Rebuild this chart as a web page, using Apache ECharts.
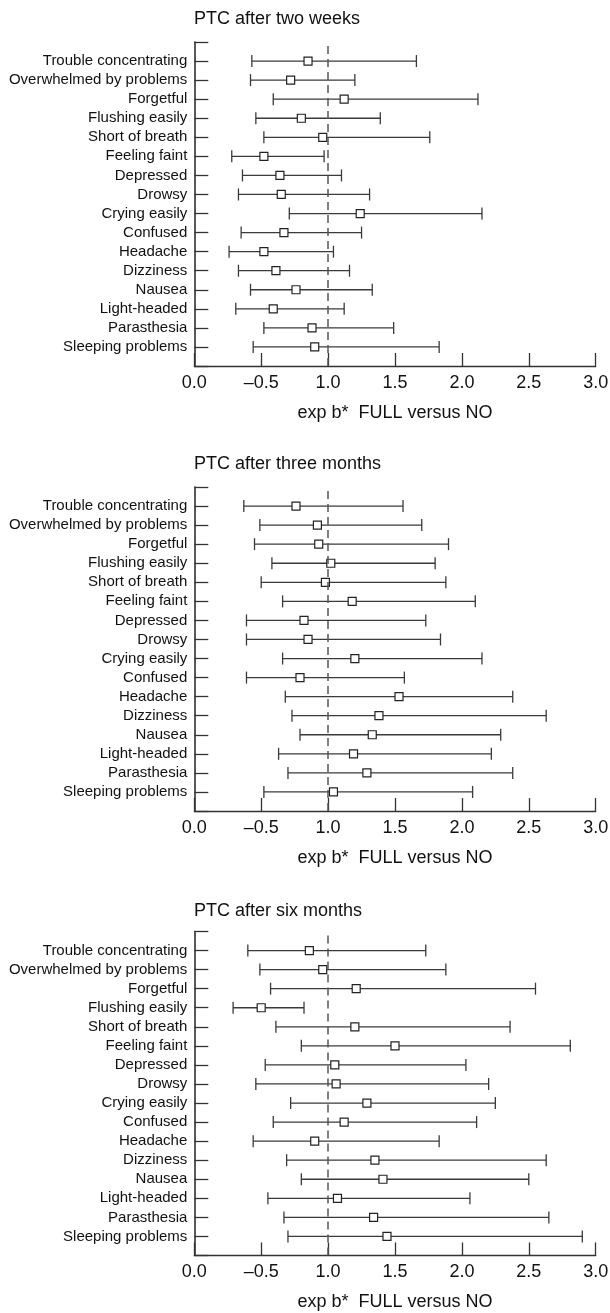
<!DOCTYPE html>
<html>
<head>
<meta charset="utf-8">
<script src="https://cdn.jsdelivr.net/npm/echarts@6/dist/echarts.min.js"></script>
<style>
html,body{margin:0;padding:0;background:#fff;}
#chart{width:610px;height:1313px;}
</style>
</head>
<body>
<div id="chart"></div>
<script>
// ---- data ----
const categories = ["Trouble concentrating","Overwhelmed by problems","Forgetful","Flushing easily","Short of breath","Feeling faint","Depressed","Drowsy","Crying easily","Confused","Headache","Dizziness","Nausea","Light-headed","Parasthesia","Sleeping problems"];
const panelTitles = ["PTC after two weeks","PTC after three months","PTC after six months"];
const xTickLabels = ["0.0","–0.5","1.0","1.5","2.0","2.5","3.0"];
const xAxisTitle = "exp b*  FULL versus NO";
const referenceValue = 1.0;

const est2w = [0.85,0.72,1.12,0.80,0.96,0.52,0.64,0.65,1.24,0.67,0.52,0.61,0.76,0.59,0.88,0.90];
const lo2w  = [0.43,0.42,0.59,0.46,0.52,0.28,0.36,0.33,0.71,0.35,0.26,0.33,0.42,0.31,0.52,0.44];
const hi2w  = [1.66,1.20,2.12,1.39,1.76,0.97,1.10,1.31,2.15,1.25,1.04,1.16,1.33,1.12,1.49,1.83];

const est3m = [0.76,0.92,0.93,1.02,0.98,1.18,0.82,0.85,1.20,0.79,1.53,1.38,1.33,1.19,1.29,1.04];
const lo3m  = [0.37,0.49,0.45,0.58,0.50,0.66,0.39,0.39,0.66,0.39,0.68,0.73,0.79,0.63,0.70,0.52];
const hi3m  = [1.56,1.70,1.90,1.80,1.88,2.10,1.73,1.84,2.15,1.57,2.38,2.63,2.29,2.22,2.38,2.08];

const est6m = [0.86,0.96,1.21,0.50,1.20,1.50,1.05,1.06,1.29,1.12,0.90,1.35,1.41,1.07,1.34,1.44];
const lo6m  = [0.40,0.49,0.57,0.29,0.61,0.80,0.53,0.46,0.72,0.59,0.44,0.69,0.80,0.55,0.67,0.70];
const hi6m  = [1.73,1.88,2.55,0.82,2.36,2.81,2.03,2.20,2.25,2.11,1.83,2.63,2.50,2.06,2.65,2.90];

// ---- build ----
const panels = [[est2w,lo2w,hi2w],[est3m,lo3m,hi3m],[est6m,lo6m,hi6m]];
const gridTops = [42, 487, 931.5];
const titleTops = [10, 455, 902];
const textFont = "'Liberation Sans',Arial,sans-serif";
const N = categories.length;

function renderItem(params, api) {
  const y = api.value(3);
  const pLo = api.coord([api.value(1), y]);
  const pHi = api.coord([api.value(2), y]);
  const pE = api.coord([api.value(0), y]);
  const cap = 6, s = 4;
  const st = {stroke:'#3a3a3a', lineWidth:1.3};
  return {type:'group', children:[
    {type:'line', shape:{x1:pLo[0],y1:pLo[1],x2:pHi[0],y2:pHi[1]}, style:st},
    {type:'line', shape:{x1:pLo[0],y1:pLo[1]-cap,x2:pLo[0],y2:pLo[1]+cap}, style:st},
    {type:'line', shape:{x1:pHi[0],y1:pHi[1]-cap,x2:pHi[0],y2:pHi[1]+cap}, style:st},
    {type:'rect', shape:{x:pE[0]-s,y:pE[1]-s,width:2*s,height:2*s}, style:{fill:'#fff',stroke:'#222',lineWidth:1.2}}
  ]};
}

const grid = [], xAxis = [], yAxis = [], series = [], title = [];
panels.forEach((p, k) => {
  grid.push({left:194.3, width:401.4, top:gridTops[k], height:324, containLabel:false, outerBoundsMode:'none'});
  title.push({text:panelTitles[k], left:194, top:titleTops[k], padding:0,
    textStyle:{fontSize:18, fontWeight:'normal', color:'#111', fontFamily:textFont}});
  xAxis.push({type:'value', gridIndex:k, min:0, max:3, interval:0.5,
    axisLine:{show:true, lineStyle:{color:'#333', width:1.3}},
    axisTick:{show:true, inside:true, length:13, lineStyle:{color:'#333', width:1.3}},
    splitLine:{show:false},
    axisLabel:{margin:8, fontSize:18, color:'#111', fontFamily:textFont,
      formatter:(v)=>xTickLabels[Math.round(v/0.5)]},
    name:xAxisTitle, nameLocation:'middle', nameGap:38,
    nameTextStyle:{fontSize:18, color:'#111', fontFamily:textFont}
  });
  yAxis.push({type:'value', gridIndex:k, min:0, max:N+1, interval:1,
    axisLine:{show:true, lineStyle:{color:'#222', width:1.5}},
    axisTick:{show:true, inside:true, length:14, lineStyle:{color:'#333', width:1.3}},
    splitLine:{show:false},
    axisLabel:{margin:7, fontSize:15, color:'#111', fontFamily:textFont,
      formatter:(v)=>(v>=1 && v<=N) ? categories[N - v] : ''}
  });
  series.push({type:'line', xAxisIndex:k, yAxisIndex:k, data:[], z:1, silent:true,
    markLine:{silent:true, symbol:['none','none'], label:{show:false},
      lineStyle:{type:[8,5], color:'#555', width:1.5},
      data:[{xAxis:referenceValue}]}});
  const data = p[0].map((e,i)=>[e, p[1][i], p[2][i], N - i]);
  series.push({type:'custom', xAxisIndex:k, yAxisIndex:k, z:3, renderItem, data,
    encode:{x:[0,1,2], y:3}, clip:false});
});

const chart = echarts.init(document.getElementById('chart'), null, {renderer:'canvas'});
chart.setOption({animation:false, backgroundColor:'#fff', title, grid, xAxis, yAxis, series});
</script>
</body>
</html>
